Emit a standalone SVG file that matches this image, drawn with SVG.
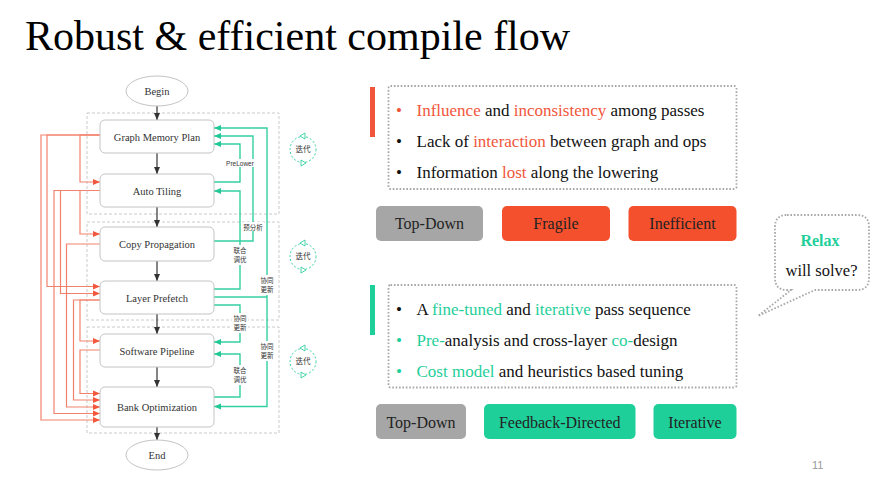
<svg xmlns="http://www.w3.org/2000/svg" width="886" height="478" viewBox="0 0 886 478">
<style>
.node rect{fill:#fff;stroke:#c4c4c4;stroke-width:1}
.node ellipse{fill:#fff;stroke:#c4c4c4;stroke-width:1}
.nt{font-family:"Liberation Serif","Times New Roman",serif;font-size:10.5px;fill:#333;text-anchor:middle}
.grp{fill:none;stroke:#bdbdbd;stroke-width:0.8;stroke-dasharray:3 2}
.blk{fill:none;stroke:#333;stroke-width:1.2;marker-end:url(#ab)}
.red{fill:none;stroke:#f3826c;stroke-width:1.2;marker-end:url(#ar)}
.grn{fill:none;stroke:#33d0a2;stroke-width:1.4}
.grna{fill:none;stroke:#33d0a2;stroke-width:1.4;marker-end:url(#ag)}
.lbl{font-family:"Noto Sans CJK SC","Liberation Sans",sans-serif;font-size:6.5px;fill:#333;text-anchor:middle}
.lblen{font-family:"Liberation Sans",sans-serif;font-size:6.5px;fill:#333;text-anchor:middle}
.it{fill:#fff;stroke:#33d0a2;stroke-width:1;stroke-dasharray:2 2}
.itt{font-family:"Noto Sans CJK SC",sans-serif;font-size:7.5px;fill:#333;text-anchor:middle}
.bt{font-family:"Liberation Serif","Times New Roman",serif;font-size:17px;fill:#111}
.r{fill:#f1563c}
.g{fill:#1fcf9a}
.dot{fill:none;stroke:#a8a8a8;stroke-width:1.8;stroke-dasharray:1.6 1.8}
.btn{font-family:"Liberation Serif","Times New Roman",serif;font-size:16px;fill:#222;text-anchor:middle}
</style>
<defs>
<marker id="ab" markerUnits="userSpaceOnUse" markerWidth="8" markerHeight="8" viewBox="0 0 8 8" refX="7" refY="4" orient="auto"><path d="M0,1 L7,4 L0,7 Z" fill="#333"/></marker>
<marker id="ar" markerUnits="userSpaceOnUse" markerWidth="8" markerHeight="8" viewBox="0 0 8 8" refX="7" refY="4" orient="auto"><path d="M0,1 L7,4 L0,7 Z" fill="#f2583d"/></marker>
<marker id="ag" markerUnits="userSpaceOnUse" markerWidth="8" markerHeight="8" viewBox="0 0 8 8" refX="7" refY="4" orient="auto"><path d="M0,1 L7,4 L0,7 Z" fill="#22c896"/></marker>
</defs>
<rect width="886" height="478" fill="#fff"/>
<text x="25" y="50" font-family="'Liberation Serif', 'Times New Roman', serif" font-size="42" fill="#000">Robust &amp; efficient compile flow</text>

<!-- group boxes -->
<rect class="grp" x="87" y="113" width="192" height="101"/>
<rect class="grp" x="87" y="222" width="192" height="98"/>
<rect class="grp" x="87" y="327" width="192" height="106"/>

<g id="connectors">
<path class="blk" d="M157,106 V120"/>
<path class="blk" d="M157,153 V174"/>
<path class="blk" d="M157,207 V227"/>
<path class="blk" d="M157,261 V281"/>
<path class="blk" d="M157,314 V334"/>
<path class="blk" d="M157,367 V387"/>
<path class="blk" d="M157,427 V440"/>
<!-- red -->
<path class="red" d="M100,135 H80 V182 H100"/>
<path class="red" d="M100,135 H47 V286.5 H100"/>
<path class="red" d="M100,135 H41 V420 H100"/>
<path class="red" d="M100,190.5 H80 V234 H100"/>
<path class="red" d="M100,190.5 H60.5 V293.5 H100"/>
<path class="red" d="M100,190.5 H54 V413.5 H100"/>
<path class="red" d="M100,244 H66.5 V407 H100"/>
<path class="red" d="M100,300 H80 V341 H100"/>
<path class="red" d="M100,300 H73.5 V400 H100"/>
<path class="red" d="M100,350 H80 V393.5 H100"/>
<!-- green -->
<path class="grn" d="M214,297 H267"/>
<path class="grna" d="M267,297 V128 H214"/>
<path class="grna" d="M267,297 V406.5 H214"/>
<path class="grna" d="M214,241 H253 V136 H214"/>
<path class="grna" d="M214,182 H240 V144 H214"/>
<path class="grna" d="M214,289 H240 V191 H214"/>
<path class="grna" d="M214,305 H240 V342 H214"/>
<path class="grna" d="M214,397 H240 V354 H214"/>
<!-- labels -->
<rect x="226" y="159" width="28" height="8" fill="#fff"/>
<text class="lblen" x="240" y="166">PreLower</text>
<rect x="243" y="222" width="21" height="9" fill="#fff"/>
<text class="lbl" x="253" y="229.5">预分析</text>
<rect x="232" y="245" width="16" height="20" fill="#fff"/>
<text class="lbl" x="240" y="252.5">联合</text>
<text class="lbl" x="240" y="262">调优</text>
<rect x="259" y="275" width="16" height="20" fill="#fff"/>
<text class="lbl" x="267" y="282.5">协同</text>
<text class="lbl" x="267" y="292">更新</text>
<rect x="232" y="313" width="16" height="20" fill="#fff"/>
<text class="lbl" x="240" y="320.5">协同</text>
<text class="lbl" x="240" y="330">更新</text>
<rect x="259" y="341" width="16" height="20" fill="#fff"/>
<text class="lbl" x="267" y="348.5">协同</text>
<text class="lbl" x="267" y="358">更新</text>
<rect x="232" y="365" width="16" height="20" fill="#fff"/>
<text class="lbl" x="240" y="372.5">联合</text>
<text class="lbl" x="240" y="382">调优</text>
</g>

<g id="begin" class="node"><ellipse cx="157" cy="91" rx="31" ry="15"/><text class="nt" x="157" y="95">Begin</text></g>
<g id="gmp" class="node"><rect x="100" y="120" width="114" height="33" rx="5"/><text class="nt" x="157" y="140.5">Graph Memory Plan</text></g>
<g id="at" class="node"><rect x="100" y="174" width="114" height="33" rx="5"/><text class="nt" x="157" y="194.5">Auto Tiling</text></g>
<g id="cp" class="node"><rect x="100" y="227" width="114" height="34" rx="5"/><text class="nt" x="157" y="248">Copy Propagation</text></g>
<g id="lp" class="node"><rect x="100" y="281" width="114" height="33" rx="5"/><text class="nt" x="157" y="301.5">Layer Prefetch</text></g>
<g id="sp" class="node"><rect x="100" y="334" width="114" height="33" rx="5"/><text class="nt" x="157" y="354.5">Software Pipeline</text></g>
<g id="bo" class="node"><rect x="100" y="387" width="114" height="40" rx="5"/><text class="nt" x="157" y="411">Bank Optimization</text></g>
<g id="end" class="node"><ellipse cx="157" cy="455" rx="31" ry="15"/><text class="nt" x="157" y="459">End</text></g>

<!-- iteration markers -->
<g id="iter1"><circle class="it" cx="303" cy="149.5" r="13"/><path d="M305,133 L300,136 L305,139 Z M301,160 L306,163 L301,166 Z" fill="#fff" stroke="#33d0a2" stroke-width="0.9"/><text class="itt" x="303" y="152">迭代</text></g>
<g id="iter2"><circle class="it" cx="303" cy="256.5" r="13"/><path d="M305,240 L300,243 L305,246 Z M301,267 L306,270 L301,273 Z" fill="#fff" stroke="#33d0a2" stroke-width="0.9"/><text class="itt" x="303" y="259">迭代</text></g>
<g id="iter3"><circle class="it" cx="303" cy="361.5" r="13"/><path d="M305,345 L300,348 L305,351 Z M301,372 L306,375 L301,378 Z" fill="#fff" stroke="#33d0a2" stroke-width="0.9"/><text class="itt" x="303" y="364">迭代</text></g>

<!-- right top panel -->
<rect x="370" y="87" width="5" height="50" fill="#f1563c"/>
<rect class="dot" x="388.5" y="86" width="348" height="103" rx="2"/>
<text class="bt" x="396" y="116"><tspan class="r">•</tspan></text>
<text class="bt" x="416.5" y="116"><tspan class="r">Influence</tspan> and <tspan class="r">inconsistency</tspan> among passes</text>
<text class="bt" x="396" y="147">•</text>
<text class="bt" x="416.5" y="147">Lack of <tspan class="r">interaction</tspan> between graph and ops</text>
<text class="bt" x="396" y="177.5">•</text>
<text class="bt" x="416.5" y="177.5">Information <tspan class="r">lost</tspan> along the lowering</text>
<rect x="376" y="206" width="107" height="35" rx="5" fill="#a6a6a6"/>
<text class="btn" x="429.5" y="229">Top-Down</text>
<rect x="502" y="206" width="108" height="35" rx="5" fill="#f4502d"/>
<text class="btn" x="556" y="229">Fragile</text>
<rect x="628.5" y="206" width="108" height="35" rx="5" fill="#f4502d"/>
<text class="btn" x="682.5" y="229">Inefficient</text>

<!-- right bottom panel -->
<rect x="370" y="285" width="5" height="50" fill="#1fcf9a"/>
<rect class="dot" x="388.5" y="285" width="348" height="102.5" rx="2"/>
<text class="bt" x="396" y="315">•</text>
<text class="bt" x="416.5" y="315">A <tspan class="g">fine-tuned</tspan> and <tspan class="g">iterative</tspan> pass sequence</text>
<text class="bt" x="396" y="346"><tspan class="g">•</tspan></text>
<text class="bt" x="416.5" y="346"><tspan class="g">Pre-</tspan>analysis and cross-layer <tspan class="g">co-</tspan>design</text>
<text class="bt" x="396" y="377"><tspan class="g">•</tspan></text>
<text class="bt" x="416.5" y="377"><tspan class="g">Cost model</tspan> and heuristics based tuning</text>
<rect x="376" y="404" width="90" height="35" rx="5" fill="#a6a6a6"/>
<text class="btn" x="421" y="427.5">Top-Down</text>
<rect x="484" y="404" width="151.5" height="35" rx="5" fill="#1fcf9a"/>
<text class="btn" x="559.75" y="427.5">Feedback-Directed</text>
<rect x="653.5" y="404" width="83" height="35" rx="5" fill="#1fcf9a"/>
<text class="btn" x="695" y="427.5">Iterative</text>

<!-- speech bubble -->
<path class="dot" d="M787,215 H857 Q869,215 869,227 V278 Q869,290 857,290 H815 L758,316 L791,290 H787 Q775,290 775,278 V227 Q775,215 787,215 Z"/>
<text x="820" y="246" font-family="'Liberation Serif', 'Times New Roman', serif" font-size="16" font-weight="bold" fill="#1fcf9a" text-anchor="middle">Relax</text>
<text x="821.5" y="276" font-family="'Liberation Serif', 'Times New Roman', serif" font-size="16.5" fill="#111" text-anchor="middle">will solve?</text>

<text x="812" y="469" font-family="'Liberation Sans', sans-serif" font-size="11" fill="#9a9a9a">11</text>
</svg>
